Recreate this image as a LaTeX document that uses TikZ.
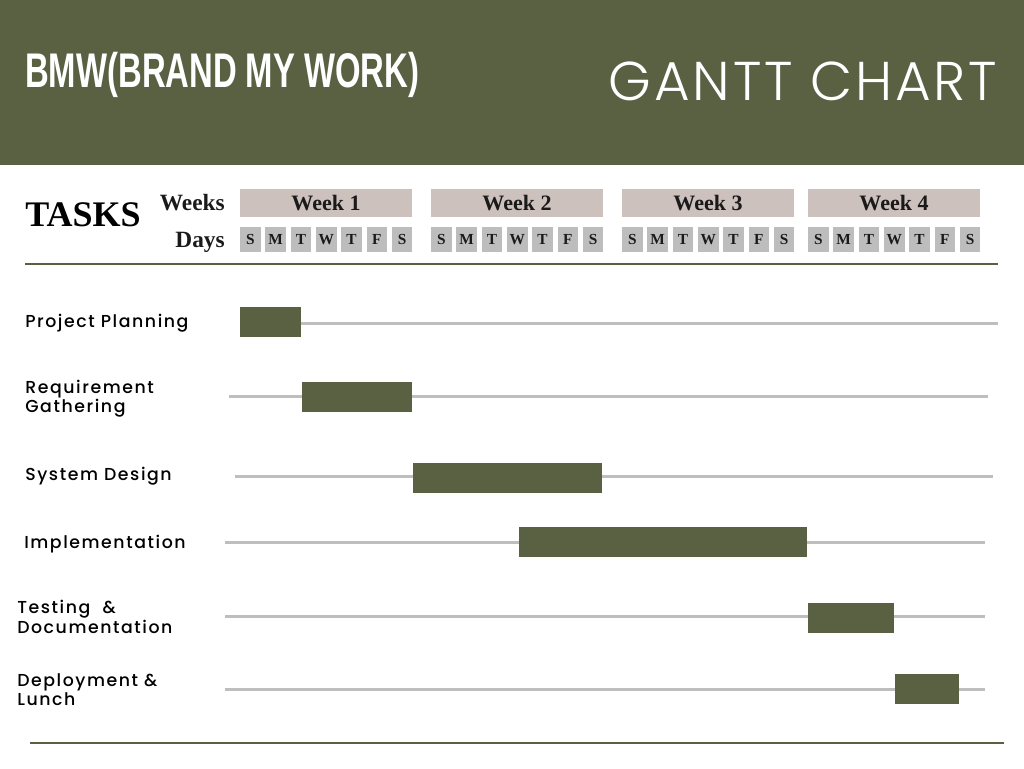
\documentclass[tikz,border=0pt]{standalone}
\usepackage{fontspec}
\setmainfont{Liberation Serif}
\newfontfamily\titlefont{Liberation Sans}[FakeStretch=0.675]
\newfontfamily\ganttfont{Poppins Light}[LetterSpace=5]
\newfontfamily\taskfont{Poppins Medium}[LetterSpace=9]
\definecolor{bmwgreen}{HTML}{5A6143}
\definecolor{weekpink}{HTML}{CDC1BE}
\definecolor{daygray}{HTML}{BDBDBD}
\definecolor{linegray}{HTML}{BEBEBE}
\definecolor{inkdark}{HTML}{1A1A1A}

\begin{document}
\begin{tikzpicture}
  [x=0.75pt,y=-0.75pt,
   weekbox/.style={rectangle, fill=weekpink, minimum width=129pt, minimum height=21pt, inner sep=0pt, text=inkdark, font=\bfseries\fontsize{16.5}{18}\selectfont},
   daybox/.style={rectangle, fill=daygray, minimum width=15.5pt, minimum height=19pt, inner sep=0pt, text=inkdark, font=\bfseries\fontsize{11.5}{12}\selectfont},
   headlabel/.style={anchor=base east, inner sep=0pt, text=inkdark, font=\bfseries\fontsize{17.5}{20}\selectfont},
   tasklabel/.style={anchor=west, inner sep=0pt, align=left, text=black, font=\taskfont\fontsize{13}{12}\selectfont},
   taskbar/.style={fill=bmwgreen},
   track/.style={draw=linegray, line width=2.25pt}]
  \useasboundingbox (0,0) rectangle (1024,768);

  % header band
  \fill[bmwgreen] (0,0) rectangle (1024,165);
  \node[anchor=base west, inner sep=0pt, text=white, font=\titlefont\bfseries\fontsize{36.5}{40}\selectfont] (brand) at (25,87) {BMW(BRAND MY WORK)};
  \node[anchor=base east, inner sep=0pt, text=white, font=\ganttfont\fontsize{41}{44}\selectfont] (gantt) at (997,100) {GANTT CHART};

  % weeks and days
  \node[anchor=base west, inner sep=0pt, text=black, font=\bfseries\fontsize{27}{28}\selectfont] (tasks) at (25,226) {TASKS};
  \node[headlabel] (weeks) at (225,210.7) {Weeks};
  \node[headlabel] (days) at (225,247) {Days};
  \foreach \w/\x in {1/240,2/431,3/622,4/808}{
    \node[weekbox] (week\w) at (\x+86,203.2) {Week \w};
    \foreach \d [count=\i from 0] in {S,M,T,W,T,F,S}
      \node[daybox] (day\w\i) at (\x+10.35+\i*25.3,239.3) {\d};
  }
  \coordinate (topl) at (25,264);
  \coordinate (topr) at (998,264);
  \draw[bmwgreen, line width=1.5pt] (topl) -- (topr);

  % tasks
  \foreach \i/\task/\ty/\lx/\ly/\ls/\le/\bs/\be/\by in {
    1/{Project Planning}/323.5/25/323/240/998/240/301/321.5,
    2/{Requirement\\Gathering}/399/25/396/229/988/302/412/397,
    3/{System Design}/476/25/476/235/993/413/602/477.5,
    4/{Implementation}/544/24/542/225/985/519/807/542,
    5/{Testing\ \ \&\\Documentation}/617/17/616.5/225/985/808/893.7/618,
    6/{Deployment \&\\Lunch}/690/17/689/225/985/895/959/689}{
    \node[tasklabel] (task\i) at (\lx,\ty) {\task};
    \coordinate (start\i) at (\ls,\ly);
    \coordinate (end\i) at (\le,\ly);
    \draw[track] (start\i) -- (end\i);
    \fill[taskbar] (\bs,\by-15) rectangle (\be,\by+15);
  }

  \coordinate (botl) at (30,743.3);
  \coordinate (botr) at (1004,743.3);
  \draw[bmwgreen, line width=1.5pt] (botl) -- (botr);
\end{tikzpicture}
\end{document}
